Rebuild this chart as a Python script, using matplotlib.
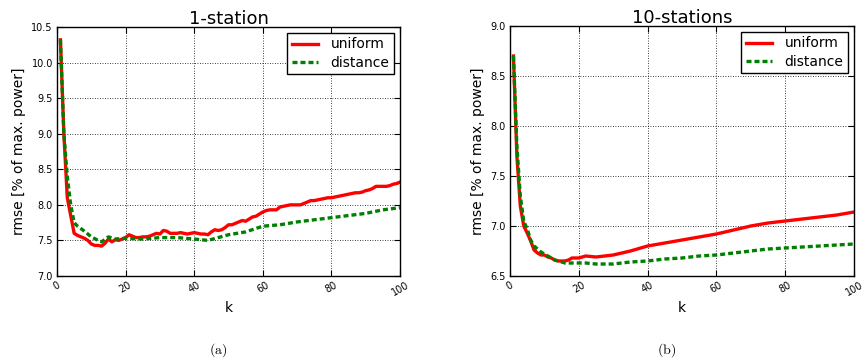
import matplotlib
matplotlib.use("Agg")
import matplotlib.pyplot as plt

# ---------------- data ----------------
k1_uniform = list(range(1, 101))
one_uniform = [10.32, 9.0, 8.1, 7.85, 7.6, 7.57, 7.55, 7.53, 7.5, 7.45,
               7.43, 7.43, 7.42, 7.46, 7.52, 7.48, 7.51, 7.50, 7.52, 7.54,
               7.58, 7.56, 7.54, 7.54, 7.55, 7.55, 7.56, 7.58, 7.60, 7.59,
               7.64, 7.63, 7.60, 7.60, 7.60, 7.61, 7.60, 7.59, 7.60, 7.61,
               7.60, 7.59, 7.59, 7.58, 7.62, 7.65, 7.64, 7.65, 7.68, 7.72,
               7.72, 7.74, 7.76, 7.78, 7.77, 7.80, 7.83, 7.84, 7.87, 7.90,
               7.92, 7.93, 7.93, 7.93, 7.97, 7.98, 7.99, 8.00, 8.00, 8.00,
               8.00, 8.02, 8.04, 8.06, 8.06, 8.07, 8.08, 8.09, 8.10, 8.10,
               8.11, 8.12, 8.13, 8.14, 8.15, 8.16, 8.17, 8.17, 8.18, 8.20,
               8.21, 8.23, 8.26, 8.26, 8.26, 8.26, 8.27, 8.29, 8.30, 8.32]

k1_distance = [1, 2, 3, 4, 5, 6, 8, 10, 12, 13, 15, 17, 20, 25, 30, 35, 40,
               44, 50, 55, 60, 65, 70, 75, 80, 85, 90, 95, 100]
one_distance = [10.32, 9.0, 8.4, 8.0, 7.75, 7.7, 7.63, 7.55, 7.5, 7.48, 7.55,
                7.52, 7.53, 7.52, 7.54, 7.54, 7.52, 7.50, 7.58, 7.62, 7.70,
                7.72, 7.76, 7.79, 7.82, 7.85, 7.88, 7.93, 7.96]

k10 = [1, 2, 3, 4, 5, 6, 7, 8, 9, 10, 11, 12, 13, 14, 15, 16, 17, 18, 19, 20,
       22, 25, 30, 35, 40, 45, 50, 55, 60, 65, 70, 75, 80, 85, 90, 95, 100]
ten_uniform = [8.7, 7.7, 7.2, 7.0, 6.93, 6.85, 6.76, 6.73, 6.71, 6.71, 6.69,
               6.68, 6.66, 6.65, 6.65, 6.65, 6.66, 6.68, 6.68, 6.68, 6.70,
               6.69, 6.71, 6.75, 6.80, 6.83, 6.86, 6.89, 6.92, 6.96, 7.00,
               7.03, 7.05, 7.07, 7.09, 7.11, 7.14]
ten_distance = [8.7, 7.8, 7.3, 7.05, 6.97, 6.86, 6.80, 6.77, 6.74, 6.72, 6.70,
                6.68, 6.66, 6.65, 6.64, 6.63, 6.63, 6.63, 6.63, 6.63, 6.63,
                6.62, 6.62, 6.64, 6.65, 6.67, 6.68, 6.70, 6.71, 6.73, 6.75,
                6.77, 6.78, 6.79, 6.80, 6.81, 6.82]

titles = ["1-station", "10-stations"]
captions = ["(a)", "(b)"]
ylims = [(7.0, 10.5), (6.5, 9.0)]
yticks = [[7.0, 7.5, 8.0, 8.5, 9.0, 9.5, 10.0, 10.5],
          [6.5, 7.0, 7.5, 8.0, 8.5, 9.0]]
xticks = [0, 20, 40, 60, 80, 100]

plt.rcParams['mathtext.fontset'] = 'cm'
fig = plt.figure(figsize=(8.65, 3.6), dpi=100)
axes = [fig.add_axes([57/865, 1 - 276/360, 343/865, 249/360]),
        fig.add_axes([510/865, 1 - 276/360, 344/865, 250/360])]

series = [((k1_uniform, one_uniform), (k1_distance, one_distance)),
          ((k10, ten_uniform), (k10, ten_distance))]

for i, ax in enumerate(axes):
    (xu, yu), (xd, yd) = series[i]
    ax.plot(xu, yu, color='#ff0000', lw=2.4, label='uniform')
    ax.plot(xd, yd, color='#008000', lw=2.4, dashes=(1.5, 0.9), label='distance')
    ax.set_xlim(0, 100)
    ax.set_ylim(*ylims[i])
    ax.set_xticks(xticks)
    ax.set_yticks(yticks[i])
    ax.set_xticklabels([str(t) for t in xticks], rotation=30, fontsize=7)
    ax.set_yticklabels(["%.1f" % t for t in yticks[i]], fontsize=7)
    ax.tick_params(direction='in', top=True, right=True, length=4, width=0.8, pad=3)
    ax.grid(True, color='black', linestyle=(0, (1, 2)), linewidth=0.6)
    for s in ax.spines.values():
        s.set_linewidth(1.0)
    ax.set_title(titles[i], fontsize=13, pad=2)
    ax.set_xlabel('k', fontsize=10, labelpad=2)
    ax.set_ylabel('rmse [% of max. power]', fontsize=10, labelpad=4)
    leg = ax.legend(loc='upper right', fontsize=10, fancybox=False, framealpha=1,
                    edgecolor='black', borderaxespad=0.4, handlelength=1.9,
                    borderpad=0.35, labelspacing=0.3, handletextpad=0.9)
    leg.get_frame().set_linewidth(1.0)

fig.text(218/865, 1 - 350/360, r'$\mathrm{(a)}$', ha='center', va='center', fontsize=10)
fig.text(667/865, 1 - 350/360, r'$\mathrm{(b)}$', ha='center', va='center', fontsize=10)

fig.savefig('out.png', dpi=100)
